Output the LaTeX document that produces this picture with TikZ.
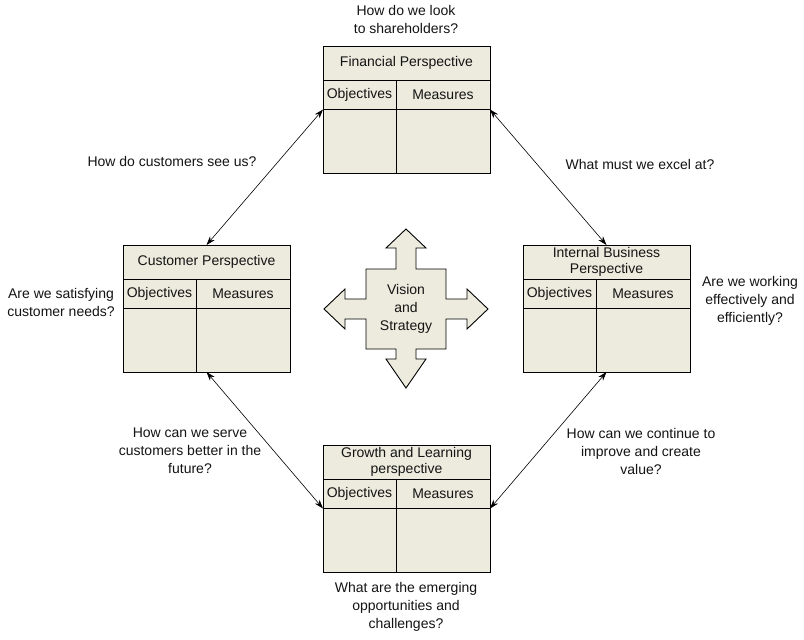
\documentclass[tikz,border=0pt]{standalone}
\usepackage{fontspec}
\setmainfont{Liberation Sans}
\usetikzlibrary{arrows.meta}
\definecolor{boxfill}{RGB}{236,235,222}
\definecolor{txt}{RGB}{20,20,20}
\tikzset{
  cellbox/.style={draw=black, fill=boxfill, line width=0.9pt, inner sep=0pt, outer sep=0pt,
    align=center, text=txt, font=\fontsize{14}{16.5}\selectfont},
  lbl/.style={align=center, inner sep=0pt, text=txt, font=\fontsize{14}{18}\selectfont},
  link/.style={{Stealth[length=9pt,width=6pt]}-{Stealth[length=9pt,width=6pt]}, line width=0.6pt},
  crossshape/.style={draw=black, fill=boxfill, line width=0.9pt, line join=miter}
}
\newcommand{\bscbox}[4]{%
  \node[cellbox, minimum width=167pt, minimum height=34pt, anchor=north west] (#1h) at (#2,#3) {#4};
  \node[cellbox, minimum width=73pt, minimum height=29.5pt, anchor=north west] (#1o) at (#1h.south west) {Objectives};
  \node[cellbox, minimum width=94pt, minimum height=29.5pt, anchor=north east] (#1m) at (#1h.south east) {Measures};
  \node[cellbox, minimum width=73pt, minimum height=63.5pt, anchor=north west] (#1a) at (#1o.south west) {};
  \node[cellbox, minimum width=94pt, minimum height=63.5pt, anchor=north east] (#1b) at (#1m.south east) {};
}
\begin{document}
\begin{tikzpicture}[x=1pt, y=-1pt]
\useasboundingbox (0,0) rectangle (804,640);
\fill[white] (0,0) rectangle (804,640);

% four perspective boxes
\bscbox{fin}{323}{46}{Financial Perspective}
\bscbox{cus}{123}{245}{Customer Perspective}
\bscbox{int}{523}{245}{Internal Business\\Perspective}
\bscbox{gro}{323}{445}{Growth and Learning\\perspective}

% central cross
\draw[crossshape] (406,229) -- (426,248) -- (416,248) -- (416,269) -- (446,269) -- (446,299)
  -- (467,299) -- (467,289) -- (488,309) -- (467,329) -- (467,319) -- (446,319) -- (446,349)
  -- (416,349) -- (416,359) -- (426,359) -- (406,388) -- (386,359) -- (396,359) -- (396,349)
  -- (366,349) -- (366,319) -- (345,319) -- (345,329) -- (324,309) -- (345,289) -- (345,299)
  -- (366,299) -- (366,269) -- (396,269) -- (396,248) -- (386,248) -- cycle;
\node[lbl] (vs) at (406,308.5) {Vision\\and\\Strategy};

% question labels
\node[lbl] (q1) at (406,19) {How do we look\\to shareholders?};
\node[lbl] (q2) at (172,161) {How do customers see us?};
\node[lbl] (q3) at (640,164) {What must we excel at?};
\node[lbl] (q4) at (61,302) {Are we satisfying\\customer needs?};
\node[lbl] (q5) at (750,301) {Are we working\\effectively and\\efficiently?};
\node[lbl] (q6) at (190,451) {How can we serve\\customers better in the\\future?};
\node[lbl] (q7) at (641,451) {How can we continue to\\improve and create\\value?};
\node[lbl] (q8) at (406,607) {What are the emerging\\opportunities and\\challenges?};

% connectors
\draw[link] (fina.north west) -- (cush.north);
\draw[link] (finb.north east) -- (inth.north);
\draw[link] (cush.center |- cusa.south) -- (groa.north west);
\draw[link] (inth.center |- inta.south) -- (grob.north east);
\end{tikzpicture}
\end{document}
